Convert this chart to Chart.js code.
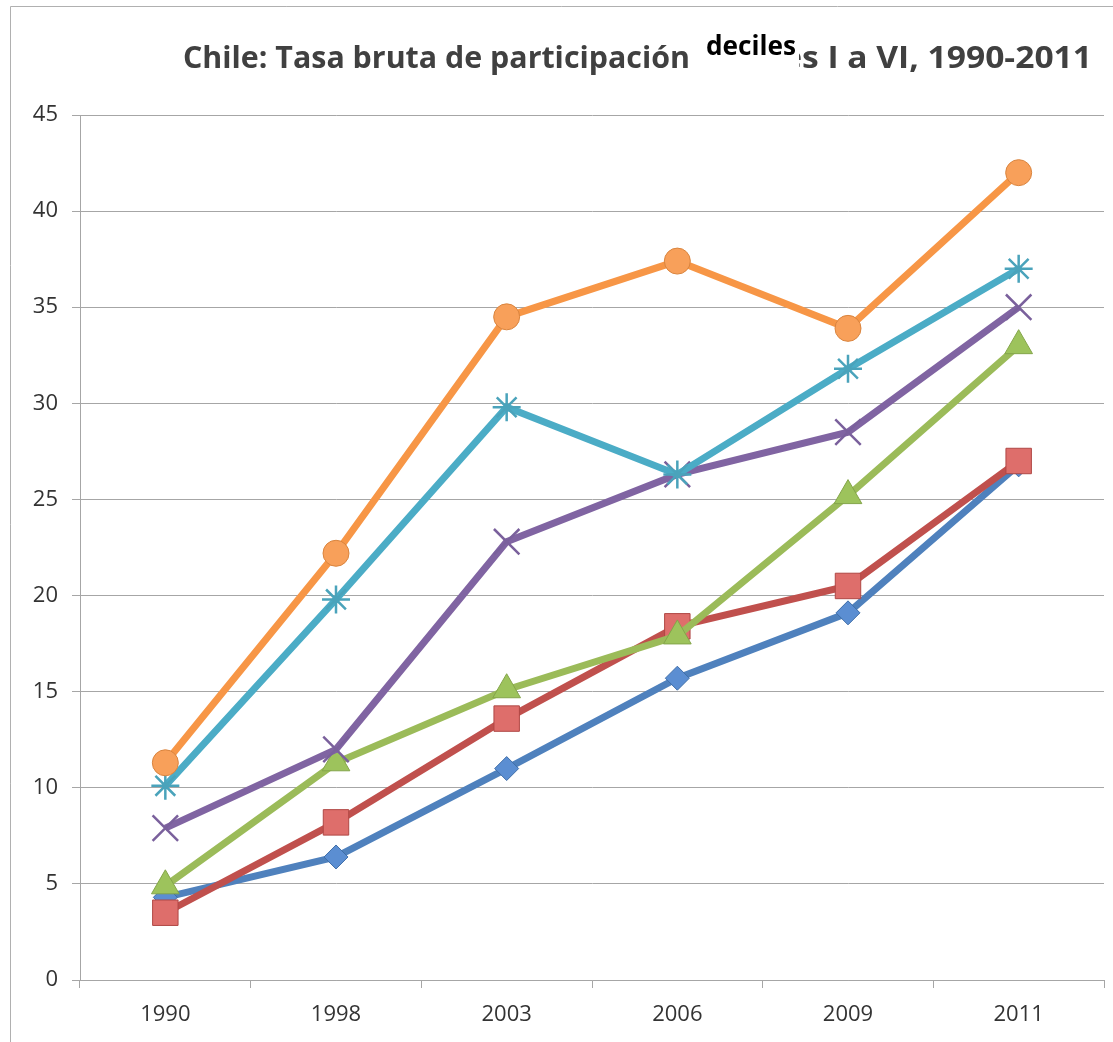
<!DOCTYPE html>
<html lang="es">
<head>
<meta charset="utf-8">
<title>Chile: Tasa bruta de participación deciles I a VI, 1990-2011</title>
<script src="https://cdn.jsdelivr.net/npm/chart.js@4.4.0/dist/chart.umd.min.js"></script>
<style>
  html, body { margin: 0; padding: 0; background: #fff; }
  canvas { display: block; }
</style>
</head>
<body>
<canvas id="myChart" width="1113" height="1042"></canvas>
<script>
    // datos
    const years = ["1990", "1998", "2003", "2006", "2009", "2011"];
    const decilI   = [4.3, 6.4, 11.0, 15.7, 19.1, 26.8];
    const decilII  = [3.5, 8.2, 13.6, 18.4, 20.5, 27.0];
    const decilIII = [4.9, 11.3, 15.1, 17.9, 25.2, 33.0];
    const decilIV  = [7.9, 12.0, 22.8, 26.3, 28.5, 35.0];
    const decilV   = [10.1, 19.8, 29.8, 26.3, 31.8, 37.0];
    const decilVI  = [11.3, 22.2, 34.5, 37.4, 33.9, 42.0];
    const seriesNames = ["Decil I", "Decil II", "Decil III", "Decil IV", "Decil V", "Decil VI"];
    const yTicks = [0, 5, 10, 15, 20, 25, 30, 35, 40, 45];

    const titleLeft = "Chile: Tasa bruta de participación";
    const titleRight = "es I a VI, 1990-2011";
    const titleOverlay = "deciles";

    const FONT = "'Open Sans', 'Liberation Sans', sans-serif";
    const GRID = "#a6a6a6";

    // titulo dibujado a mano (con el recuadro "deciles" encima)
    const titlePlugin = {
        id: "titlePlugin",
        afterDraw(chart) {
            const ctx = chart.ctx;
            ctx.save();
            // marco del grafico
            ctx.strokeStyle = "#b0b0b0";
            ctx.lineWidth = 1;
            ctx.beginPath();
            ctx.moveTo(10.5, 1042);
            ctx.lineTo(10.5, 6.5);
            ctx.lineTo(1113, 6.5);
            ctx.stroke();

            ctx.fillStyle = "#404040";
            ctx.font = "bold 31px " + FONT;
            ctx.textBaseline = "alphabetic";
            ctx.textAlign = "left";
            let w = ctx.measureText(titleLeft).width;
            ctx.save();
            ctx.translate(183, 68);
            ctx.scale(507 / w, 1);
            ctx.fillText(titleLeft, 0, 0);
            ctx.restore();

            const wFull = ctx.measureText(titleRight).width;
            const wPart = ctx.measureText(titleRight.slice(1)).width;
            const k = 290 / wPart;
            ctx.save();
            ctx.translate(1092 - wFull * k, 68);
            ctx.scale(k, 1);
            ctx.fillText(titleRight, 0, 0);
            ctx.restore();

            // recuadro blanco con "deciles"
            ctx.fillStyle = "#fff";
            ctx.fillRect(696, 22, 103, 58);
            ctx.fillStyle = "#000";
            ctx.font = "bold 26px " + FONT;
            w = ctx.measureText(titleOverlay).width;
            ctx.save();
            ctx.translate(706, 55);
            ctx.scale(90 / w, 1);
            ctx.fillText(titleOverlay, 0, 0);
            ctx.restore();
            ctx.restore();
        }
    };

    let makeSet = (i, data, line, fill, border, style, radius, bw) => ({
        label: seriesNames[i],
        data: data,
        borderColor: line,
        borderWidth: 7,
        pointStyle: style,
        pointRadius: radius,
        pointHoverRadius: radius,
        pointBackgroundColor: fill,
        pointBorderColor: border,
        pointBorderWidth: bw,
        tension: 0,
        clip: false,
        order: 6 - i
    });

    const ctx1 = document.getElementById("myChart").getContext("2d");
    const myChart = new Chart(ctx1, {
        type: "line",
        data: {
            labels: years,
            datasets: [
                makeSet(0, decilI, "#4f81bd", "#5b8ed2", "#3f6ea8", "rectRot", 12, 1),
                makeSet(1, decilII, "#c0504d", "#de6e6b", "#b04845", "rect", 18, 1),
                makeSet(2, decilIII, "#9bbb59", "#9dc35c", "#84a54a", "triangle", 16, 1),
                makeSet(3, decilIV, "#8064a2", "#8064a2", "#7a609c", "crossRot", 18, 2.5),
                makeSet(4, decilV, "#4bacc6", "#4bacc6", "#4aa3bb", "star", 14, 2.5),
                makeSet(5, decilVI, "#f79646", "#f8a05a", "#d9843e", "circle", 13, 1)
            ]
        },
        options: {
            responsive: false,
            animation: false,
            layout: { autoPadding: false, padding: { left: 10, top: 115, right: 9, bottom: 0 } },
            plugins: {
                legend: { display: false },
                tooltip: { enabled: false },
                title: { display: false }
            },
            scales: {
                x: {
                    offset: true,
                    grid: { offset: true, drawOnChartArea: false, drawTicks: true, tickLength: 8, color: GRID },
                    border: { color: GRID, width: 1 },
                    ticks: { color: "#333333", font: { size: 22, family: FONT }, padding: 14 },
                    afterFit: (scale) => { scale.height = 62; scale.paddingLeft = 0; scale.paddingRight = 0; }
                },
                y: {
                    min: 0,
                    max: 45,
                    afterBuildTicks: (scale) => { scale.ticks = yTicks.map(v => ({ value: v })); },
                    grid: { color: GRID, tickLength: 8 },
                    border: { color: GRID, width: 1 },
                    ticks: { color: "#333333", font: { size: 22, family: FONT }, padding: 14 },
                    afterFit: (scale) => { scale.width = 70; scale.paddingTop = 0; scale.paddingBottom = 0; }
                }
            }
        },
        plugins: [titlePlugin]
    });
</script>
</body>
</html>
